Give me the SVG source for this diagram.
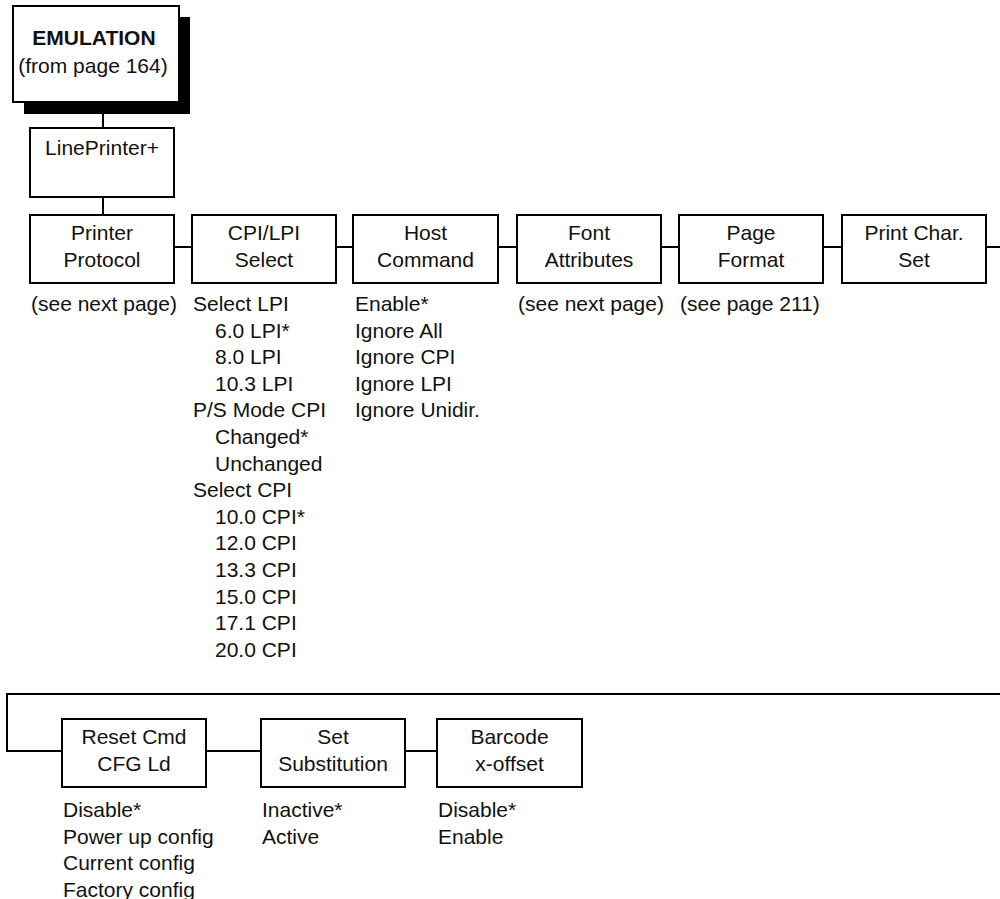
<svg xmlns="http://www.w3.org/2000/svg" width="1000" height="899" viewBox="0 0 1000 899">
  <style>
    .box { fill: #ffffff; stroke: #000000; stroke-width: 2; }
    .shadow { fill: #000000; }
    .wire { fill: none; stroke: #000000; stroke-width: 2; }
    text { font-family: "Liberation Sans", Arial, Helvetica, sans-serif; font-size: 21px; fill: #111111; }
    .c { text-anchor: middle; }
    .b { font-weight: bold; }
  </style>

  <!-- connectors -->
  <g id="connectors">
    <path class="wire" d="M103,102 V128"/>
    <path class="wire" d="M103,197 V215"/>
    <path class="wire" d="M174,247 H192 M336,247 H353 M498,247 H517 M661,247 H679 M823,247 H842 M986,247 H1000"/>
    <path class="wire" d="M1000,694 H7 V751 H62"/>
    <path class="wire" d="M206,751 H261 M405,751 H437"/>
  </g>

  <!-- root menu -->
  <g id="emulation">
    <rect class="shadow" x="24" y="17" width="166" height="97"/>
    <rect class="box" x="13" y="6" width="166" height="96"/>
    <text class="c b" x="94" y="45">EMULATION</text>
    <text class="c" x="93" y="73">(from page 164)</text>
  </g>

  <g id="lineprinter">
    <rect class="box" x="30" y="128" width="144" height="69"/>
    <text class="c" x="102" y="155">LinePrinter+</text>
  </g>

  <!-- first row of submenus -->
  <g id="printer-protocol">
    <rect class="box" x="30" y="215" width="144" height="68"/>
    <text class="c" x="102" y="240">Printer</text>
    <text class="c" x="102" y="267">Protocol</text>
    <text x="31" y="311">(see next page)</text>
  </g>

  <g id="cpi-lpi-select">
    <rect class="box" x="192" y="215" width="144" height="68"/>
    <text class="c" x="264" y="240">CPI/LPI</text>
    <text class="c" x="264" y="267">Select</text>
    <text x="193" y="311">Select LPI</text>
    <text x="215" y="337.6">6.0 LPI*</text>
    <text x="215" y="364.2">8.0 LPI</text>
    <text x="215" y="390.8">10.3 LPI</text>
    <text x="193" y="417.4">P/S Mode CPI</text>
    <text x="215" y="444">Changed*</text>
    <text x="215" y="470.6">Unchanged</text>
    <text x="193" y="497.2">Select CPI</text>
    <text x="215" y="523.8">10.0 CPI*</text>
    <text x="215" y="550.4">12.0 CPI</text>
    <text x="215" y="577">13.3 CPI</text>
    <text x="215" y="603.6">15.0 CPI</text>
    <text x="215" y="630.2">17.1 CPI</text>
    <text x="215" y="656.8">20.0 CPI</text>
  </g>

  <g id="host-command">
    <rect class="box" x="353" y="215" width="145" height="68"/>
    <text class="c" x="425.5" y="240">Host</text>
    <text class="c" x="425.5" y="267">Command</text>
    <text x="355" y="311">Enable*</text>
    <text x="355" y="337.6">Ignore All</text>
    <text x="355" y="364.2">Ignore CPI</text>
    <text x="355" y="390.8">Ignore LPI</text>
    <text x="355" y="417.4">Ignore Unidir.</text>
  </g>

  <g id="font-attributes">
    <rect class="box" x="517" y="215" width="144" height="68"/>
    <text class="c" x="589" y="240">Font</text>
    <text class="c" x="589" y="267">Attributes</text>
    <text x="518" y="311">(see next page)</text>
  </g>

  <g id="page-format">
    <rect class="box" x="679" y="215" width="144" height="68"/>
    <text class="c" x="751" y="240">Page</text>
    <text class="c" x="751" y="267">Format</text>
    <text x="680" y="311">(see page 211)</text>
  </g>

  <g id="print-char-set">
    <rect class="box" x="842" y="215" width="144" height="68"/>
    <text class="c" x="914" y="240">Print Char.</text>
    <text class="c" x="914" y="267">Set</text>
  </g>

  <!-- second row of submenus -->
  <g id="reset-cmd-cfg-ld">
    <rect class="box" x="62" y="719" width="144" height="68"/>
    <text class="c" x="134" y="744">Reset Cmd</text>
    <text class="c" x="134" y="771">CFG Ld</text>
    <text x="63" y="817">Disable*</text>
    <text x="63" y="843.6">Power up config</text>
    <text x="63" y="870.2">Current config</text>
    <text x="63" y="896.8">Factory config</text>
  </g>

  <g id="set-substitution">
    <rect class="box" x="261" y="719" width="144" height="68"/>
    <text class="c" x="333" y="744">Set</text>
    <text class="c" x="333" y="771">Substitution</text>
    <text x="262" y="817">Inactive*</text>
    <text x="262" y="843.6">Active</text>
  </g>

  <g id="barcode-x-offset">
    <rect class="box" x="437" y="719" width="145" height="68"/>
    <text class="c" x="509.5" y="744">Barcode</text>
    <text class="c" x="509.5" y="771">x-offset</text>
    <text x="438" y="817">Disable*</text>
    <text x="438" y="843.6">Enable</text>
  </g>
</svg>
